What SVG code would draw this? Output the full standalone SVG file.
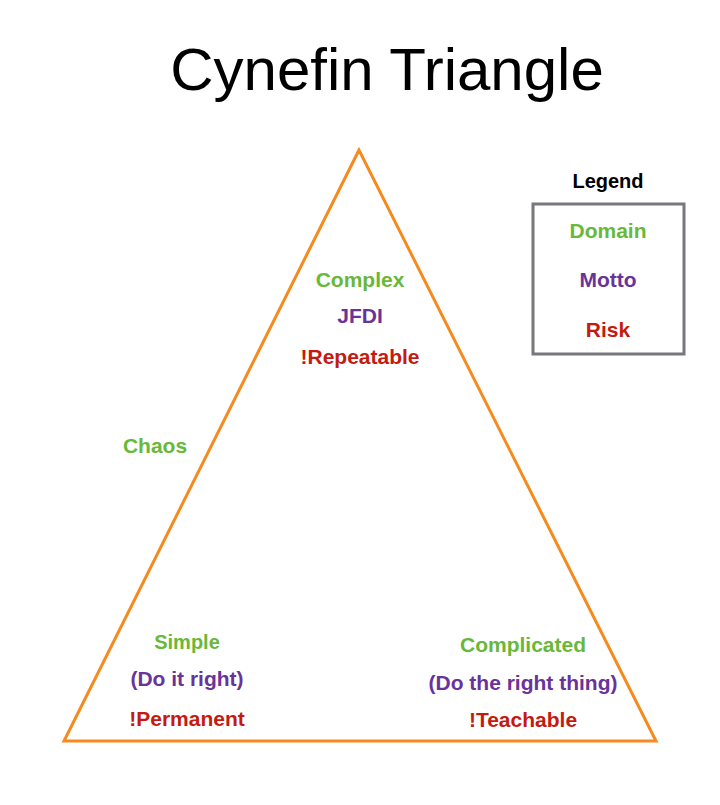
<svg xmlns="http://www.w3.org/2000/svg" width="720" height="805" viewBox="0 0 720 805">
<style>
text{font-family:"Liberation Sans",Arial,sans-serif;text-anchor:middle}
.t{font-size:60px;fill:#000}
.l{font-size:21px;font-weight:bold}
.d{fill:#68B83A}
.m{fill:#69339A}
.r{fill:#C41A10}
.k{fill:#000}
</style>
<rect width="720" height="805" fill="#fff"/>
<text class="t" x="387" y="90">Cynefin Triangle</text>
<g id="connectors">
<polygon points="359,150 64,741 656,741" fill="none" stroke="#F78A1E" stroke-width="3" stroke-linejoin="miter"/>
</g>
<g id="complex">
<text class="l d" x="360" y="287">Complex</text>
<text class="l m" x="360" y="323">JFDI</text>
<text class="l r" x="360" y="364">!Repeatable</text>
</g>
<g id="chaos">
<text class="l d" x="155" y="453">Chaos</text>
</g>
<g id="simple">
<text class="l d" x="187" y="649" style="font-size:20px">Simple</text>
<text class="l m" x="187" y="686">(Do it right)</text>
<text class="l r" x="187" y="726">!Permanent</text>
</g>
<g id="complicated">
<text class="l d" x="523" y="652">Complicated</text>
<text class="l m" x="523" y="690">(Do the right thing)</text>
<text class="l r" x="523" y="727">!Teachable</text>
</g>
<g id="legend">
<text class="l k" x="608" y="188" style="font-size:20px">Legend</text>
<rect x="533" y="204" width="151" height="150" fill="none" stroke="#77777D" stroke-width="3"/>
<text class="l d" x="608" y="238">Domain</text>
<text class="l m" x="608" y="287">Motto</text>
<text class="l r" x="608" y="337">Risk</text>
</g>
</svg>
